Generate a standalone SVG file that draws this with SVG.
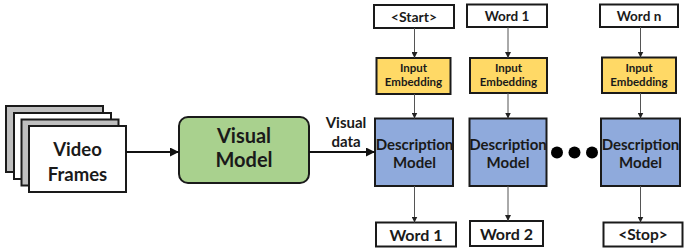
<svg xmlns="http://www.w3.org/2000/svg" width="685" height="252" viewBox="0 0 685 252">
  <defs>
    <marker id="headBold" viewBox="0 0 10 10" refX="10" refY="5" markerWidth="9" markerHeight="9" markerUnits="userSpaceOnUse" orient="auto">
      <path d="M0,0 L10,5 L0,10 z" fill="#111"/>
    </marker>
    <marker id="headThin" viewBox="0 0 10 10" refX="10" refY="5" markerWidth="6" markerHeight="6" markerUnits="userSpaceOnUse" orient="auto">
      <path d="M0,0 L10,5 L0,10 z" fill="#222"/>
    </marker>
    <style>
      text { font-family: Lato, "Liberation Sans", sans-serif; font-weight: bold; fill: #1a1a1a; text-anchor: middle; }
      .frame-gray { fill: #bfbfbf; stroke: #1a1a1a; stroke-width: 2; }
      .frame-white { fill: #ffffff; stroke: #1a1a1a; stroke-width: 2; }
      .visual { fill: #a9d18e; stroke: #1a1a1a; stroke-width: 2; }
      .word { fill: #ffffff; stroke: #1a1a1a; stroke-width: 2; }
      .embed { fill: #ffd966; stroke: #1a1a1a; stroke-width: 2; }
      .desc { fill: #8faadc; stroke: #1a1a1a; stroke-width: 2; }
      .bold-link { stroke: #111; stroke-width: 2; fill: none; marker-end: url(#headBold); }
      .thin-link { stroke: #555; stroke-width: 1; fill: none; marker-end: url(#headThin); }
    </style>
  </defs>

  <rect width="685" height="252" fill="#ffffff"/>

  <!-- stacked video frames -->
  <g id="video-frames">
    <rect class="frame-gray" x="6" y="106" width="97" height="66"/>
    <rect class="frame-white" x="14" y="113" width="97" height="66"/>
    <rect class="frame-gray" x="21.5" y="119.5" width="97" height="66"/>
    <rect class="frame-white" x="29" y="126" width="97" height="66"/>
    <text x="77.5" y="155.5" font-size="18.5">Video</text>
    <text x="77.5" y="180.5" font-size="18.5">Frames</text>
  </g>

  <g id="visual-model">
    <rect class="visual" x="179" y="117" width="130" height="66" rx="9"/>
    <text x="244" y="143" font-size="20">Visual</text>
    <text x="244" y="167" font-size="20">Model</text>
  </g>

  <!-- column 1 -->
  <g id="start-token">
    <rect class="word" x="374" y="5" width="80" height="23"/>
    <text x="414" y="21.5" font-size="14">&lt;Start&gt;</text>
  </g>
  <g id="embed-1">
    <rect class="embed" x="376.5" y="58" width="74" height="36"/>
    <text x="413.5" y="72" font-size="11.5">Input</text>
    <text x="413.5" y="86" font-size="11.5">Embedding</text>
  </g>
  <g id="desc-1">
    <rect class="desc" x="375" y="118.5" width="78" height="67.5"/>
    <text x="414.5" y="150" font-size="15">Description</text>
    <text x="414.5" y="168" font-size="15">Model</text>
  </g>
  <g id="out-1">
    <rect class="word" x="376" y="222.5" width="80" height="24"/>
    <text x="416" y="240.5" font-size="16">Word 1</text>
  </g>

  <!-- column 2 -->
  <g id="word-1-in">
    <rect class="word" x="467" y="4.5" width="80" height="22.5"/>
    <text x="507" y="20.5" font-size="13.5">Word 1</text>
  </g>
  <g id="embed-2">
    <rect class="embed" x="470" y="58" width="77" height="35"/>
    <text x="508.5" y="72" font-size="11.5">Input</text>
    <text x="508.5" y="86" font-size="11.5">Embedding</text>
  </g>
  <g id="desc-2">
    <rect class="desc" x="469.5" y="118.5" width="77" height="67.5"/>
    <text x="508" y="150" font-size="15">Description</text>
    <text x="508" y="168" font-size="15">Model</text>
  </g>
  <g id="out-2">
    <rect class="word" x="470" y="221" width="73" height="25"/>
    <text x="506.5" y="239.5" font-size="16">Word 2</text>
  </g>

  <!-- ellipsis between columns -->
  <g id="ellipsis">
    <circle cx="557" cy="152.5" r="6" fill="#000"/>
    <circle cx="574.5" cy="152.5" r="6" fill="#000"/>
    <circle cx="592" cy="152.5" r="6" fill="#000"/>
  </g>

  <!-- column n -->
  <g id="word-n-in">
    <rect class="word" x="600" y="4.5" width="78" height="22.5"/>
    <text x="639" y="20.5" font-size="13.5">Word n</text>
  </g>
  <g id="embed-n">
    <rect class="embed" x="602" y="57.5" width="74" height="35.5"/>
    <text x="639" y="72" font-size="11.5">Input</text>
    <text x="639" y="86" font-size="11.5">Embedding</text>
  </g>
  <g id="desc-n">
    <rect class="desc" x="601" y="118.5" width="79" height="67.5"/>
    <text x="640.5" y="150" font-size="15">Description</text>
    <text x="640.5" y="168" font-size="15">Model</text>
  </g>
  <g id="stop-token">
    <rect class="word" x="603.5" y="222.5" width="79" height="24"/>
    <text x="643" y="240" font-size="15.5">&lt;Stop&gt;</text>
  </g>

  <!-- connectors -->
  <g id="connectors">
    <line class="bold-link" x1="126" y1="152" x2="179" y2="152"/>
    <line class="bold-link" x1="309" y1="152" x2="375" y2="152"/>
    <text x="346" y="128" font-size="15">Visual</text>
    <text x="346" y="146.5" font-size="15">data</text>

    <line class="thin-link" x1="414.5" y1="28" x2="414.5" y2="58"/>
    <line class="thin-link" x1="414.5" y1="94" x2="414.5" y2="118.5"/>
    <line class="thin-link" x1="414.5" y1="186" x2="414.5" y2="222.5"/>

    <line class="thin-link" x1="508" y1="27" x2="508" y2="58"/>
    <line class="thin-link" x1="508" y1="93" x2="508" y2="118.5"/>
    <line class="thin-link" x1="508" y1="186" x2="508" y2="221"/>

    <line class="thin-link" x1="640.5" y1="27" x2="640.5" y2="57.5"/>
    <line class="thin-link" x1="640.5" y1="93" x2="640.5" y2="118.5"/>
    <line class="thin-link" x1="640.5" y1="186" x2="640.5" y2="222.5"/>
  </g>
</svg>
